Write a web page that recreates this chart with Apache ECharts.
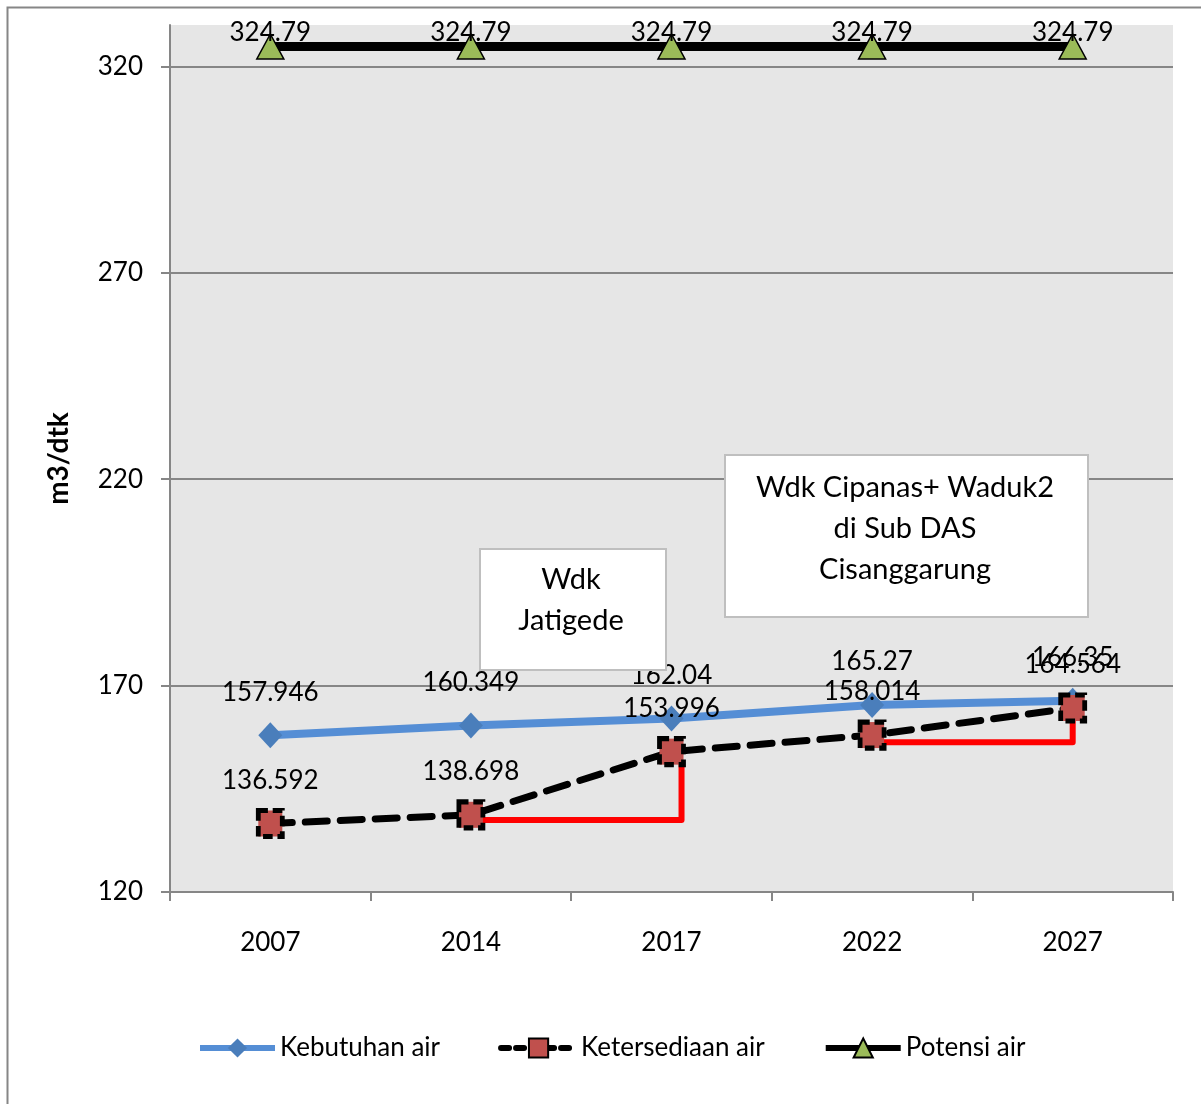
<!DOCTYPE html>
<html>
<head>
<meta charset="utf-8">
<script src="https://cdn.jsdelivr.net/npm/echarts@6/dist/echarts.min.js"></script>
<style>
html,body{margin:0;padding:0;background:#fff;}
#chart{width:1201px;height:1104px;}
</style>
</head>
<body>
<div id="chart"></div>
<script>
// ---- data ----
var categories = ['2007', '2014', '2017', '2022', '2027'];
var kebutuhan = [157.946, 160.349, 162.04, 165.27, 166.35];
var ketersediaan = [136.592, 138.698, 153.996, 158.014, 164.564];
var potensi = [324.79, 324.79, 324.79, 324.79, 324.79];
var yTicks = [120, 170, 220, 270, 320];
// red step annotations, in data space: [category position, value]
var stepJatigede = [[1.05, 137.45], [2.05, 137.45], [2.05, 150.8]];
var stepCipanas = [[3.03, 156.3], [4.0, 156.3], [4.0, 161.7]];
var boxJatigede = ['Wdk', 'Jatigede'];
var boxCipanas = ['Wdk Cipanas+ Waduk2', 'di Sub DAS', 'Cisanggarung'];

var FONT = 'Lato';
var FS = 26;
var BOXFS = 29;
var chart = echarts.init(document.getElementById('chart'), null, {renderer: 'canvas'});

var option = {
  animation: false,
  backgroundColor: '#ffffff',
  textStyle: {fontFamily: FONT},
  grid: {left: 170, right: 28, top: 25, bottom: 212, show: true, backgroundColor: '#E6E6E6', borderWidth: 0},
  legend: {
    left: 197, top: 1035, padding: 0,
    itemWidth: 75, itemHeight: 24, itemGap: 58,
    textStyle: {fontFamily: FONT, fontSize: FS, color: '#000'},
    data: [
      {name: 'Kebutuhan air', lineStyle: {width: 6}},
      {name: 'Ketersediaan air', lineStyle: {width: 6, type: [8, 7]}},
      {name: 'Potensi air', lineStyle: {width: 6}}
    ]
  },
  xAxis: [{
    type: 'category', data: categories, boundaryGap: true,
    axisLine: {show: true, lineStyle: {color: '#868686', width: 2}},
    axisTick: {show: true, length: 9, alignWithLabel: false, lineStyle: {color: '#868686', width: 2}},
    axisLabel: {fontFamily: FONT, fontSize: FS, color: '#000', margin: 38},
    splitLine: {show: false}
  }, {
    type: 'value', min: -0.5, max: 4.5, show: false,
    axisLine: {onZero: false}, splitLine: {show: false}
  }],
  yAxis: {
    type: 'value', min: 120, max: 330, interval: 50,
    name: 'm3/dtk', nameLocation: 'middle', nameGap: 97,
    nameTextStyle: {fontFamily: FONT, fontSize: 28, fontWeight: 'bold', color: '#000'},
    axisLine: {show: true, onZero: false, lineStyle: {color: '#868686', width: 2}},
    axisTick: {show: true, length: 9, customValues: yTicks, lineStyle: {color: '#868686', width: 2}},
    axisLabel: {fontFamily: FONT, fontSize: FS, color: '#000', margin: 27, customValues: yTicks},
    splitLine: {show: true, lineStyle: {color: ['#868686', '#868686', '#868686', '#868686', '#868686', 'rgba(0,0,0,0)'], width: 2}}
  },
  series: [
    {
      name: 'Kebutuhan air', type: 'line', data: kebutuhan,
      symbol: 'diamond', symbolSize: [24, 26],
      lineStyle: {color: '#558ED5', width: 8},
      itemStyle: {color: '#4A7EBB'},
      label: {show: true, position: 'inside', offset: [0, -43], fontFamily: FONT, fontSize: FS, color: '#000'},
      z: 3
    },
    {
      name: 'red1', type: 'line', xAxisIndex: 1, data: stepJatigede, symbol: 'none',
      lineStyle: {color: '#FF0000', width: 6, join: 'round', cap: 'round'}, z: 2, silent: true
    },
    {
      name: 'red2', type: 'line', xAxisIndex: 1, data: stepCipanas, symbol: 'none',
      lineStyle: {color: '#FF0000', width: 6, join: 'round', cap: 'round'}, z: 2, silent: true
    },
    {
      name: 'Ketersediaan air', type: 'line', data: ketersediaan,
      symbol: 'rect', symbolSize: [24, 26],
      lineStyle: {color: '#000', width: 7, type: [22, 13], cap: 'round'},
      itemStyle: {color: '#C0504D', borderColor: '#000', borderWidth: 5, borderType: [10, 5]},
      label: {show: true, position: 'inside', offset: [0, -43], fontFamily: FONT, fontSize: FS, color: '#000'},
      z: 4
    },
    {
      name: 'Potensi air', type: 'line', data: potensi,
      symbol: 'triangle', symbolSize: [27, 25],
      lineStyle: {color: '#000', width: 9},
      itemStyle: {color: '#9BBB59', borderColor: '#000', borderWidth: 1.5},
      label: {show: true, position: 'inside', offset: [0, -14], fontFamily: FONT, fontSize: FS, color: '#000'},
      z: 3
    }
  ],
  graphic: [
    {type: 'rect', shape: {x: 7.5, y: 7.5, width: 1210, height: 1110}, style: {fill: 'none', stroke: '#868686', lineWidth: 2}, z: 0, silent: true},
    {type: 'rect', shape: {x: 480, y: 549, width: 186, height: 121}, style: {fill: '#fff', stroke: '#BFBFBF', lineWidth: 2}, z: 10},
    {type: 'text', x: 571, y: 559, style: {text: boxJatigede.join('\n'), font: BOXFS + 'px ' + FONT, fill: '#000', align: 'center', verticalAlign: 'top', lineHeight: 41}, z: 11},
    {type: 'rect', shape: {x: 725, y: 455, width: 363, height: 162}, style: {fill: '#fff', stroke: '#BFBFBF', lineWidth: 2}, z: 10},
    {type: 'text', x: 905, y: 467, style: {text: boxCipanas.join('\n'), font: BOXFS + 'px ' + FONT, fill: '#000', align: 'center', verticalAlign: 'top', lineHeight: 41}, z: 11}
  ]
};
chart.setOption(option);
</script>
</body>
</html>
